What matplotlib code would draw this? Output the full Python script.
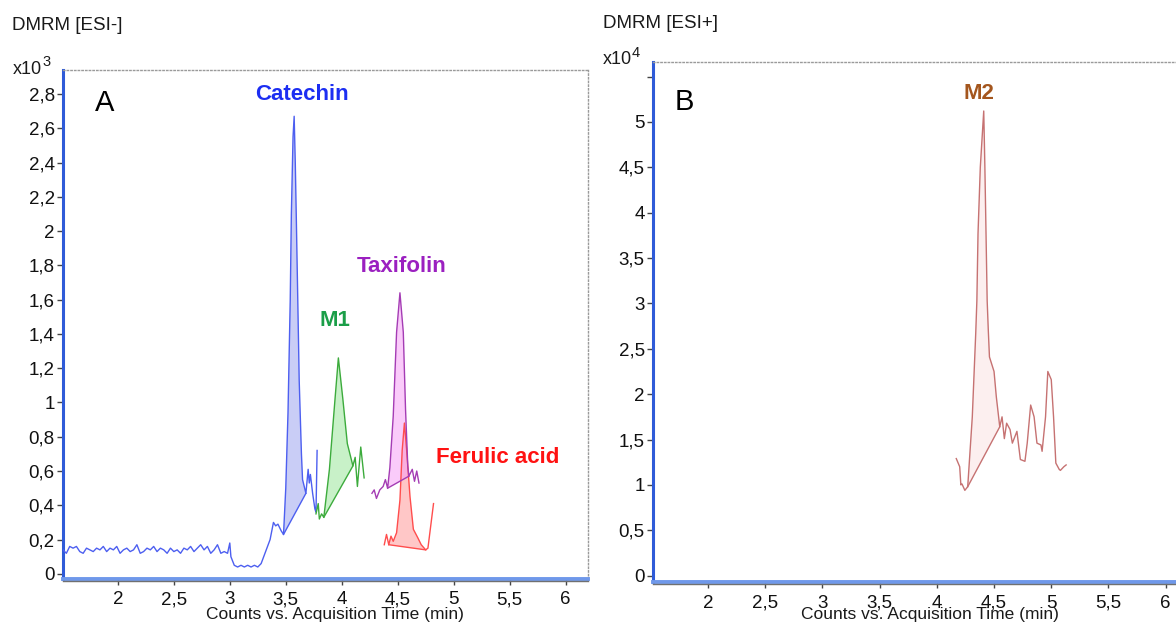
import matplotlib
matplotlib.use("Agg")
import matplotlib.pyplot as plt
from matplotlib.transforms import offset_copy

plt.rcParams["font.family"] = ["Liberation Sans", "DejaVu Sans"]

# --- ESI- channel, counts x10^3 ---
catechin_t = [1.51, 1.54, 1.57, 1.60, 1.63, 1.66, 1.69, 1.72, 1.75, 1.78,
              1.81, 1.84, 1.87, 1.90, 1.93, 1.96, 1.99, 2.02, 2.05, 2.08,
              2.11, 2.14, 2.17, 2.20, 2.23, 2.26, 2.29, 2.32, 2.35, 2.38,
              2.41, 2.44, 2.47, 2.50, 2.53, 2.56, 2.59, 2.62, 2.65, 2.68,
              2.71, 2.74, 2.77, 2.80, 2.83, 2.86, 2.89, 2.92, 2.95, 2.98,
              3.00, 3.01, 3.04, 3.07, 3.10, 3.13, 3.16, 3.19, 3.22, 3.25,
              3.28, 3.32, 3.36, 3.39, 3.41, 3.43, 3.46, 3.48, 3.50, 3.52,
              3.54, 3.55, 3.565, 3.575, 3.585, 3.595, 3.61, 3.62, 3.64, 3.65,
              3.68, 3.70, 3.71, 3.72, 3.74, 3.76, 3.77, 3.78]
catechin_y = [0.14, 0.12, 0.16, 0.15, 0.16, 0.13, 0.12, 0.15, 0.14, 0.13,
              0.15, 0.14, 0.16, 0.13, 0.15, 0.14, 0.16, 0.12, 0.14, 0.15,
              0.13, 0.14, 0.17, 0.12, 0.13, 0.15, 0.14, 0.16, 0.13, 0.15,
              0.14, 0.12, 0.15, 0.13, 0.14, 0.12, 0.15, 0.14, 0.16, 0.13,
              0.15, 0.17, 0.14, 0.16, 0.12, 0.14, 0.17, 0.12, 0.13, 0.12,
              0.18, 0.10, 0.05, 0.04, 0.05, 0.04, 0.05, 0.04, 0.05, 0.04,
              0.06, 0.13, 0.20, 0.30, 0.28, 0.29, 0.25, 0.23, 0.50, 0.94,
              1.60, 2.10, 2.55, 2.67, 2.40, 2.05, 1.50, 1.13, 0.70, 0.55,
              0.47, 0.61, 0.53, 0.58, 0.47, 0.38, 0.36, 0.72]
catechin_int = (3.48, 3.68)

m1_t = [3.77, 3.79, 3.80, 3.82, 3.84, 3.89, 3.94, 3.97, 4.01, 4.05,
        4.10, 4.12, 4.14, 4.17, 4.20]
m1_y = [0.35, 0.41, 0.32, 0.35, 0.33, 0.61, 1.02, 1.26, 1.02, 0.76,
        0.63, 0.68, 0.51, 0.74, 0.56]
m1_int = (3.84, 4.10)

taxifolin_t = [4.27, 4.29, 4.31, 4.34, 4.37, 4.39, 4.41, 4.43, 4.46, 4.49,
               4.52, 4.55, 4.57, 4.59, 4.60, 4.63, 4.65, 4.67, 4.69]
taxifolin_y = [0.47, 0.49, 0.44, 0.49, 0.51, 0.55, 0.50, 0.62, 0.92, 1.41,
               1.64, 1.41, 0.96, 0.63, 0.57, 0.61, 0.54, 0.60, 0.53]
taxifolin_int = (4.41, 4.60)

ferulic_t = [4.38, 4.40, 4.42, 4.44, 4.46, 4.49, 4.52, 4.54, 4.56, 4.58,
             4.61, 4.64, 4.68, 4.71, 4.75, 4.77, 4.82]
ferulic_y = [0.17, 0.23, 0.17, 0.22, 0.19, 0.24, 0.43, 0.72, 0.88, 0.72,
             0.45, 0.26, 0.21, 0.17, 0.14, 0.15, 0.41]
ferulic_int = (4.42, 4.75)

# --- ESI+ channel, counts x10^4 ---
m2_t = [4.17, 4.20, 4.21, 4.22, 4.245, 4.27, 4.31, 4.34, 4.35, 4.36,
        4.38, 4.41, 4.42, 4.43, 4.44, 4.45, 4.46, 4.50, 4.52, 4.55,
        4.57, 4.59, 4.61, 4.64, 4.66, 4.70, 4.73, 4.77, 4.79, 4.82,
        4.85, 4.875, 4.91, 4.92, 4.95, 4.97, 5.00, 5.02, 5.04, 5.07,
        5.08, 5.11, 5.13]
m2_y = [1.29, 1.20, 1.00, 1.01, 0.94, 0.98, 1.75, 2.67, 3.03, 3.77,
        4.50, 5.12, 4.50, 3.77, 3.03, 2.70, 2.41, 2.25, 1.97, 1.64,
        1.75, 1.51, 1.68, 1.61, 1.46, 1.59, 1.28, 1.26, 1.46, 1.88,
        1.75, 1.46, 1.44, 1.37, 1.75, 2.25, 2.16, 1.75, 1.24, 1.17,
        1.16, 1.20, 1.22]
m2_int = (4.27, 4.55)

a_yticks = [0, 0.2, 0.4, 0.6, 0.8, 1, 1.2, 1.4, 1.6, 1.8, 2, 2.2, 2.4, 2.6, 2.8]
b_yticks = [0, 0.5, 1, 1.5, 2, 2.5, 3, 3.5, 4, 4.5, 5, 5.5]
x_ticks = [2, 2.5, 3, 3.5, 4, 4.5, 5, 5.5, 6]

W, H = 1176, 628


def comma(v):
    s = f"{v:g}"
    return s.replace(".", ",")


def draw_trace(ax, t, y, window, line_color, fill_color):
    """Chromatogram trace with its integrated area shaded down to the baseline."""
    i0 = t.index(window[0])
    i1 = t.index(window[1])
    ax.fill(t[i0:i1 + 1], y[i0:i1 + 1], color=fill_color, lw=0, zorder=2)
    ax.plot([t[i0], t[i1]], [y[i0], y[i1]], color=line_color, lw=1.0, zorder=3)
    ax.plot(t, y, color=line_color, lw=1.0, zorder=3)


def style_axes(ax, yticks, ylabels, show_right):
    ax.set_xticks(x_ticks)
    ax.set_xticklabels([comma(v) for v in x_ticks])
    ax.set_yticks(yticks)
    ax.set_yticklabels(ylabels)
    ax.tick_params(axis="both", direction="out", length=4, width=1,
                   color="#444444", labelsize=13.5, labelcolor="#111111", pad=2)
    ax.tick_params(axis="x", pad=5)
    ax.spines["left"].set_color("#2f5bd8")
    ax.spines["left"].set_linewidth(2.2)
    ax.spines["bottom"].set_color("#6f98ea")
    ax.spines["bottom"].set_linewidth(2.8)
    ax.spines["top"].set_color("#9a9a9a")
    ax.spines["top"].set_linestyle(":")
    ax.spines["top"].set_linewidth(1.0)
    if show_right:
        ax.spines["right"].set_color("#9a9a9a")
        ax.spines["right"].set_linestyle(":")
        ax.spines["right"].set_linewidth(1.0)
    else:
        ax.spines["right"].set_visible(False)
    # grey rule just under the blue time axis
    tr = offset_copy(ax.transAxes, fig=ax.figure, y=-2.2, units="dots")
    ax.plot([0, 1], [0, 0], transform=tr, color="#707070", lw=1.0,
            clip_on=False, zorder=5)


fig = plt.figure(figsize=(W / 100, H / 100), dpi=100)

axA = fig.add_axes([63 / W, 1 - 579 / H, (588 - 63) / W, (579 - 70) / H])
axB = fig.add_axes([653 / W, 1 - 582 / H, (1176 - 653) / W, (582 - 62) / H])

draw_trace(axA, catechin_t, catechin_y, catechin_int, "#4d5ff0", "#c9cdf6")
draw_trace(axA, m1_t, m1_y, m1_int, "#3cab3c", "#c8f1c8")
draw_trace(axA, ferulic_t, ferulic_y, ferulic_int, "#ff4d4d", (1.0, 0.6, 0.6, 0.55))
draw_trace(axA, taxifolin_t, taxifolin_y, taxifolin_int, "#a43cb4", (0.97, 0.6, 0.97, 0.5))
draw_trace(axB, m2_t, m2_y, m2_int, "#c67272", "#fcefef")

axA.set_xlim(1.51, 6.2)
axA.set_ylim(-0.03, 2.94)
axB.set_xlim(1.52, 6.09)
axB.set_ylim(-0.07, 5.66)

style_axes(axA, a_yticks, [comma(v) for v in a_yticks], True)
style_axes(axB, b_yticks, [comma(v) for v in b_yticks[:-1]] + [""], False)

# peak names
axA.text(3.646, 2.796, "Catechin", color="#1c2ef2", fontsize=16,
         fontweight="bold", ha="center", va="center")
axA.text(3.936, 1.48, "M1", color="#1b9e48", fontsize=16,
         fontweight="bold", ha="center", va="center")
axA.text(4.534, 1.795, "Taxifolin", color="#9b20c0", fontsize=16,
         fontweight="bold", ha="center", va="center")
axA.text(5.39, 0.677, "Ferulic acid", color="#ff1212", fontsize=16,
         fontweight="bold", ha="center", va="center")
axB.text(4.37, 5.31, "M2", color="#a4561e", fontsize=16,
         fontweight="bold", ha="center", va="center")

# panel letters, channel titles and scale factors
fig.text(105 / W, 1 - 103 / H, "A", fontsize=21, ha="center", va="center")
fig.text(684 / W, 1 - 102 / H, "B", fontsize=21, ha="center", va="center")
fig.text(12 / W, 1 - 25 / H, "DMRM [ESI-]", fontsize=13.5, ha="left",
         va="center", color="#1a1a1a")
fig.text(603 / W, 1 - 23 / H, "DMRM [ESI+]", fontsize=13.5, ha="left",
         va="center", color="#1a1a1a")
fig.text(13 / W, 1 - 69 / H, "x10", fontsize=13, ha="left", va="center",
         color="#1a1a1a")
fig.text(42 / W, 1 - 62 / H, "3", fontsize=10.5, ha="left", va="center",
         color="#1a1a1a")
fig.text(603 / W, 1 - 60 / H, "x10", fontsize=13, ha="left", va="center",
         color="#1a1a1a")
fig.text(632 / W, 1 - 53 / H, "4", fontsize=10.5, ha="left", va="center",
         color="#1a1a1a")

for cx in (335, 930):
    fig.text(cx / W, 1 - 614 / H, "Counts vs. Acquisition Time (min)",
             fontsize=12.5, ha="center", va="center", color="#1a1a1a")

fig.savefig("out.png", dpi=100, facecolor="white")
